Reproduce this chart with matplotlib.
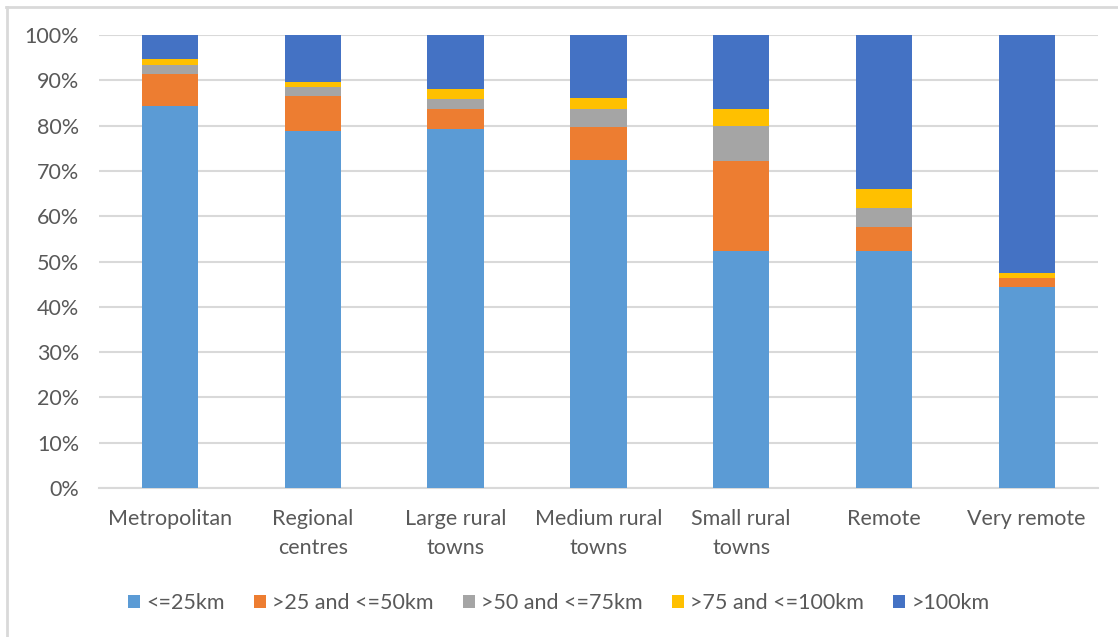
import numpy as np
import matplotlib.pyplot as plt
from matplotlib.lines import Line2D

# share of trips by distance band, per remoteness class (%)
categories = ["Metropolitan", "Regional\ncentres", "Large rural\ntowns", "Medium rural\ntowns",
              "Small rural\ntowns", "Remote", "Very remote"]
bands = ["<=25km", ">25 and <=50km", ">50 and <=75km", ">75 and <=100km", ">100km"]
upto25 = [84.3, 78.9, 79.2, 72.4, 52.3, 52.3, 44.3]
km25_50 = [7.1, 7.6, 4.5, 7.3, 19.8, 5.4, 2.1]
km50_75 = [2.0, 2.0, 2.2, 4.0, 7.9, 4.2, 0.0]
km75_100 = [1.3, 1.2, 2.1, 2.5, 3.7, 4.2, 1.0]
over100 = [5.3, 10.3, 12.0, 13.8, 16.3, 33.9, 52.6]
colors = ["#5B9BD5", "#ED7D31", "#A5A5A5", "#FFC000", "#4472C4"]

plt.rcParams['font.family'] = ['Lato', 'DejaVu Sans']
txt = "#595959"
grid = "#d9d9d9"
fs = 15.5

fig = plt.figure(figsize=(11.18, 6.37), dpi=100)
ax = fig.add_axes([98.6 / 1118, 149 / 637, 999.5 / 1118, 453 / 637])

x = np.arange(len(categories))
bottom = np.zeros(len(categories))
for name, vals, c in zip(bands, [upto25, km25_50, km50_75, km75_100, over100], colors):
    vals = np.array(vals)
    ax.bar(x, vals / 100, 0.395, bottom=bottom / 100, color=c, label=name, zorder=3)
    bottom += vals

ax.set_xlim(-0.5, len(categories) - 0.5)
ax.set_ylim(0, 1)
ax.set_yticks(np.linspace(0, 1, 11))
ax.set_yticklabels([f"{int(round(v * 100))}%" for v in np.linspace(0, 1, 11)])
ax.set_xticks(x)
ax.set_xticklabels(categories)
for t in ax.get_xticklabels():
    t.set_linespacing(1.55)
ax.tick_params(axis='y', length=0, pad=14, labelsize=fs, labelcolor=txt)
ax.tick_params(axis='x', length=0, pad=15, labelsize=fs, labelcolor=txt)
ax.grid(axis='y', color=grid, lw=1.5, zorder=0)
for s in ["top", "right", "left"]:
    ax.spines[s].set_visible(False)
ax.spines["bottom"].set_color(grid)
ax.spines["bottom"].set_linewidth(1.5)

handles, labels = ax.get_legend_handles_labels()
fig.legend(handles, labels, loc="center", bbox_to_anchor=(0.5, 1 - 603 / 637), ncol=5,
           frameon=False, fontsize=fs, labelcolor=txt, handlelength=0.55, handleheight=0.55,
           handletextpad=0.3, columnspacing=1.35)

# light frame around the chart area
fig.add_artist(Line2D([6 / 1118, 1], [1 - 6.5 / 637, 1 - 6.5 / 637], color=grid, lw=2,
                      transform=fig.transFigure))
fig.add_artist(Line2D([6.5 / 1118, 6.5 / 1118], [0, 1 - 6.5 / 637], color=grid, lw=2,
                      transform=fig.transFigure))

fig.savefig("out.png", dpi=100)
